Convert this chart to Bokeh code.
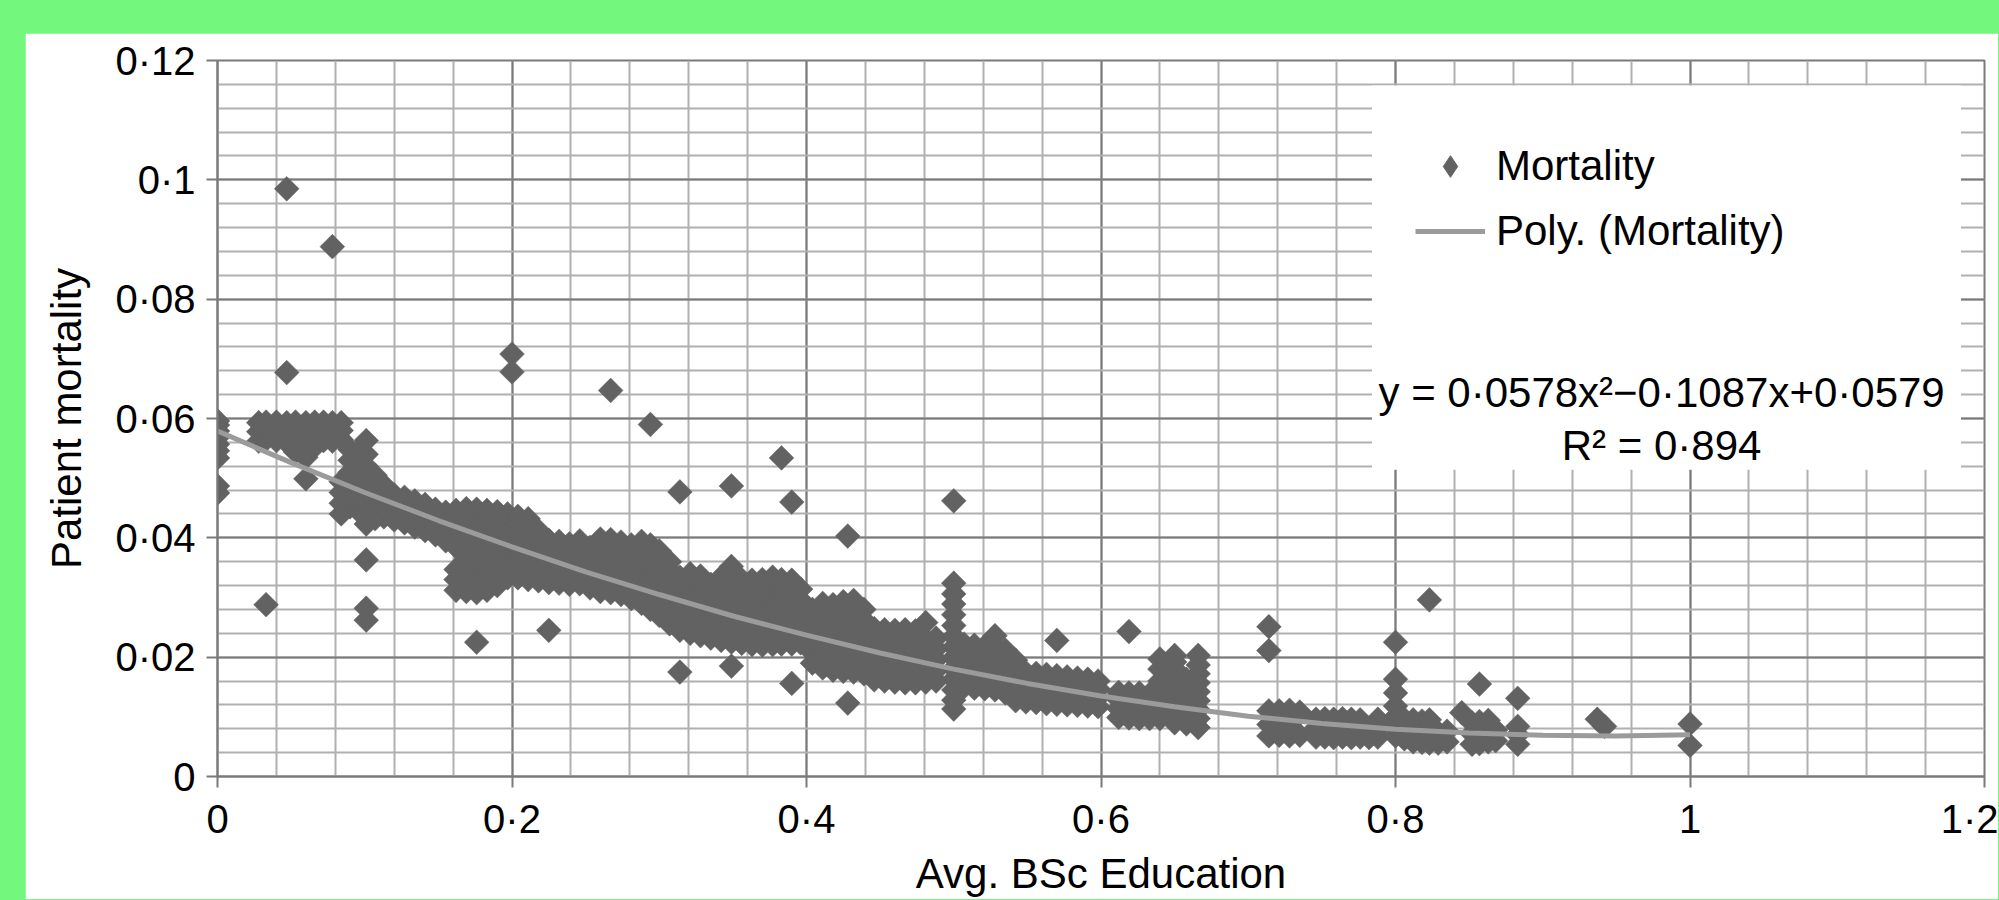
from bokeh.plotting import figure
from bokeh.models import (Range1d, FixedTicker, Legend, LegendItem, BoxAnnotation,
                          Label, GlobalInlineStyleSheet, ColumnDataSource)
from bokeh.embed import file_html
from bokeh.resources import INLINE

# ---------------- data ----------------
x_ticks = [0, 0.2, 0.4, 0.6, 0.8, 1.0, 1.2]
x_tick_labels = ["0", "0·2", "0·4", "0·6", "0·8", "1", "1·2"]
y_ticks = [0, 0.02, 0.04, 0.06, 0.08, 0.1, 0.12]
y_tick_labels = ["0", "0·02", "0·04", "0·06", "0·08", "0·1", "0·12"]

# proportion of BSc-educated nurses (x) and the mortality values observed at it (y)
edu_levels = [
    0.000, 0.028, 0.033, 0.040, 0.047, 0.053, 0.060, 0.066, 0.072, 0.078,
    0.084, 0.090, 0.095, 0.101, 0.107, 0.113, 0.120, 0.127, 0.134, 0.141,
    0.148, 0.155, 0.162, 0.169, 0.176, 0.183, 0.190, 0.197, 0.200, 0.204,
    0.211, 0.218, 0.225, 0.232, 0.239, 0.246, 0.253, 0.260, 0.267, 0.274,
    0.281, 0.288, 0.294, 0.300, 0.307, 0.314, 0.321, 0.328, 0.335, 0.342,
    0.349, 0.356, 0.363, 0.370, 0.377, 0.383, 0.390, 0.396, 0.404, 0.411,
    0.418, 0.425, 0.428, 0.432, 0.439, 0.446, 0.453, 0.460, 0.467, 0.474,
    0.481, 0.488, 0.500, 0.507, 0.514, 0.521, 0.528, 0.535, 0.542, 0.549,
    0.556, 0.563, 0.570, 0.577, 0.584, 0.591, 0.598, 0.612, 0.619, 0.626,
    0.633, 0.640, 0.650, 0.658, 0.666, 0.714, 0.721, 0.728, 0.735, 0.746,
    0.752, 0.758, 0.764, 0.770, 0.776, 0.782, 0.788, 0.800, 0.806, 0.812,
    0.818, 0.823, 0.829, 0.835, 0.845, 0.852, 0.857, 0.863, 0.868, 0.883,
    0.937, 0.942, 1.000,
]
mortality_at_level = [
    [0.0475, 0.0487, 0.0534, 0.0546, 0.0557, 0.0568, 0.0579, 0.0589, 0.0596],  # 0.000
    [0.0562, 0.0578, 0.0593],                                  # 0.028
    [0.0288, 0.0565, 0.0580, 0.0594],                          # 0.033
    [0.0563, 0.0579, 0.0594],                                  # 0.040
    [0.0560, 0.0577, 0.0593, 0.0677, 0.0985],                  # 0.047
    [0.0544, 0.0562, 0.0578, 0.0594],                          # 0.053
    [0.0499, 0.0535, 0.0560, 0.0577, 0.0593],                  # 0.060
    [0.0553, 0.0565, 0.0580, 0.0594],                          # 0.066
    [0.0563, 0.0578, 0.0594],                                  # 0.072
    [0.0562, 0.0577, 0.0593, 0.0888],                          # 0.078
    [0.0440, 0.0458, 0.0476, 0.0494, 0.0565, 0.0580, 0.0593],  # 0.084
    [0.0452, 0.0470, 0.0490, 0.0510, 0.0530, 0.0548],          # 0.090
    [0.0447, 0.0466, 0.0485, 0.0504, 0.0523, 0.0541],          # 0.095
    [0.0262, 0.0282, 0.0363, 0.0423, 0.0442, 0.0461, 0.0480, 0.0500, 0.0520, 0.0540, 0.0563],  # 0.101
    [0.0432, 0.0450, 0.0468, 0.0487, 0.0505],                  # 0.107
    [0.0435, 0.0452, 0.0470, 0.0488],                          # 0.113
    [0.0430, 0.0447, 0.0463, 0.0472],                          # 0.120
    [0.0425, 0.0441, 0.0457, 0.0468],                          # 0.127
    [0.0418, 0.0434, 0.0450, 0.0462],                          # 0.134
    [0.0412, 0.0428, 0.0444, 0.0456],                          # 0.141
    [0.0405, 0.0421, 0.0437, 0.0448],                          # 0.148
    [0.0395, 0.0412, 0.0428, 0.0443],                          # 0.155
    [0.0312, 0.0330, 0.0347, 0.0385, 0.0402, 0.0420, 0.0437, 0.0446],  # 0.162
    [0.0310, 0.0327, 0.0345, 0.0362, 0.0380, 0.0398, 0.0416, 0.0434, 0.0449],  # 0.169
    [0.0225, 0.0308, 0.0325, 0.0343, 0.0360, 0.0378, 0.0396, 0.0414, 0.0432, 0.0448],  # 0.176
    [0.0312, 0.0330, 0.0348, 0.0366, 0.0384, 0.0402, 0.0420, 0.0438, 0.0446],  # 0.183
    [0.0320, 0.0338, 0.0356, 0.0374, 0.0392, 0.0410, 0.0428, 0.0444],  # 0.190
    [0.0333, 0.0351, 0.0369, 0.0387, 0.0405, 0.0423, 0.0440],  # 0.197
    [0.0678, 0.0708],                                          # 0.200
    [0.0333, 0.0350, 0.0368, 0.0386, 0.0404, 0.0422, 0.0436],  # 0.204
    [0.0330, 0.0347, 0.0365, 0.0383, 0.0401, 0.0419, 0.0432],  # 0.211
    [0.0328, 0.0345, 0.0362, 0.0380, 0.0397, 0.0412],          # 0.218
    [0.0245, 0.0325, 0.0342, 0.0360, 0.0377, 0.0396],          # 0.225
    [0.0324, 0.0341, 0.0358, 0.0375, 0.0394],                  # 0.232
    [0.0322, 0.0339, 0.0356, 0.0373, 0.0390],                  # 0.239
    [0.0323, 0.0340, 0.0357, 0.0374, 0.0395],                  # 0.246
    [0.0316, 0.0333, 0.0350, 0.0367, 0.0384],                  # 0.253
    [0.0310, 0.0327, 0.0345, 0.0363, 0.0381, 0.0398],          # 0.260
    [0.0308, 0.0325, 0.0343, 0.0361, 0.0379, 0.0397, 0.0647],  # 0.267
    [0.0305, 0.0323, 0.0341, 0.0359, 0.0377, 0.0393],          # 0.274
    [0.0298, 0.0316, 0.0334, 0.0352, 0.0370, 0.0388],          # 0.281
    [0.0290, 0.0308, 0.0326, 0.0344, 0.0362, 0.0380, 0.0394],  # 0.288
    [0.0280, 0.0298, 0.0316, 0.0334, 0.0352, 0.0370, 0.0388, 0.0590],  # 0.294
    [0.0270, 0.0288, 0.0306, 0.0324, 0.0342, 0.0360, 0.0378],  # 0.300
    [0.0256, 0.0274, 0.0292, 0.0310, 0.0328, 0.0346, 0.0360],  # 0.307
    [0.0175, 0.0245, 0.0262, 0.0280, 0.0298, 0.0316, 0.0334, 0.0477],  # 0.314
    [0.0240, 0.0257, 0.0275, 0.0293, 0.0311, 0.0329, 0.0340],  # 0.321
    [0.0236, 0.0253, 0.0271, 0.0289, 0.0307, 0.0325, 0.0336],  # 0.328
    [0.0232, 0.0250, 0.0268, 0.0286, 0.0304, 0.0322],          # 0.335
    [0.0228, 0.0246, 0.0264, 0.0282, 0.0300, 0.0318, 0.0334],  # 0.342
    [0.0185, 0.0225, 0.0243, 0.0261, 0.0279, 0.0297, 0.0315, 0.0352, 0.0487],  # 0.349
    [0.0223, 0.0241, 0.0259, 0.0277, 0.0295, 0.0313, 0.0330],  # 0.356
    [0.0221, 0.0239, 0.0257, 0.0275, 0.0293, 0.0311, 0.0329],  # 0.363
    [0.0220, 0.0238, 0.0256, 0.0274, 0.0292, 0.0310, 0.0330],  # 0.370
    [0.0221, 0.0239, 0.0257, 0.0275, 0.0301, 0.0319, 0.0334],  # 0.377
    [0.0222, 0.0240, 0.0258, 0.0276, 0.0294, 0.0312, 0.0330, 0.0534],  # 0.383
    [0.0156, 0.0222, 0.0240, 0.0258, 0.0276, 0.0294, 0.0312, 0.0329, 0.0460],  # 0.390
    [0.0224, 0.0242, 0.0260, 0.0278, 0.0296, 0.0314],          # 0.396
    [0.0190, 0.0208, 0.0226, 0.0244, 0.0262, 0.0280],          # 0.404
    [0.0182, 0.0200, 0.0218, 0.0236, 0.0254, 0.0272, 0.0290],  # 0.411
    [0.0178, 0.0196, 0.0214, 0.0232, 0.0250, 0.0268, 0.0288],  # 0.418
    [0.0176, 0.0194, 0.0212, 0.0230, 0.0248, 0.0266, 0.0284, 0.0293],  # 0.425
    [0.0123, 0.0403],                                          # 0.428
    [0.0175, 0.0193, 0.0211, 0.0229, 0.0247, 0.0265, 0.0283, 0.0295],  # 0.432
    [0.0172, 0.0190, 0.0208, 0.0226, 0.0244, 0.0262, 0.0280],  # 0.439
    [0.0162, 0.0180, 0.0198, 0.0216, 0.0234, 0.0248],          # 0.446
    [0.0160, 0.0178, 0.0196, 0.0214, 0.0232, 0.0246],          # 0.453
    [0.0158, 0.0176, 0.0194, 0.0212, 0.0230, 0.0245],          # 0.460
    [0.0157, 0.0175, 0.0193, 0.0211, 0.0229, 0.0246],          # 0.467
    [0.0157, 0.0175, 0.0193, 0.0211, 0.0229, 0.0244],          # 0.474
    [0.0158, 0.0176, 0.0194, 0.0212, 0.0230, 0.0258],          # 0.481
    [0.0160, 0.0178, 0.0196, 0.0214, 0.0232],                  # 0.488
    [0.0113, 0.0128, 0.0145, 0.0163, 0.0181, 0.0199, 0.0217, 0.0235, 0.0253,
     0.0271, 0.0289, 0.0306, 0.0324, 0.0462],                  # 0.500
    [0.0150, 0.0168, 0.0186, 0.0204, 0.0222],                  # 0.507
    [0.0148, 0.0166, 0.0184, 0.0202, 0.0220],                  # 0.514
    [0.0147, 0.0165, 0.0183, 0.0201, 0.0218],                  # 0.521
    [0.0145, 0.0163, 0.0181, 0.0199, 0.0217, 0.0236],          # 0.528
    [0.0140, 0.0158, 0.0176, 0.0194, 0.0212],                  # 0.535
    [0.0127, 0.0143, 0.0160, 0.0176, 0.0195],                  # 0.542
    [0.0125, 0.0141, 0.0158, 0.0174],                          # 0.549
    [0.0124, 0.0140, 0.0157, 0.0173],                          # 0.556
    [0.0122, 0.0138, 0.0155, 0.0171],                          # 0.563
    [0.0121, 0.0137, 0.0154, 0.0169, 0.0228],                  # 0.570
    [0.0120, 0.0136, 0.0152, 0.0167],                          # 0.577
    [0.0119, 0.0135, 0.0151, 0.0165],                          # 0.584
    [0.0118, 0.0133, 0.0149, 0.0163],                          # 0.591
    [0.0117, 0.0132, 0.0147, 0.0160],                          # 0.598
    [0.0099, 0.0114, 0.0129, 0.0141],                          # 0.612
    [0.0098, 0.0113, 0.0128, 0.0140, 0.0243],                  # 0.619
    [0.0097, 0.0112, 0.0127, 0.0140],                          # 0.626
    [0.0097, 0.0111, 0.0126, 0.0138],                          # 0.633
    [0.0097, 0.0111, 0.0126, 0.0140, 0.0160, 0.0180, 0.0197],  # 0.640
    [0.0090, 0.0105, 0.0120, 0.0135, 0.0150, 0.0165, 0.0180, 0.0192, 0.0203],  # 0.650
    [0.0088, 0.0103, 0.0118, 0.0133, 0.0148, 0.0163],          # 0.658
    [0.0082, 0.0097, 0.0112, 0.0127, 0.0142, 0.0157, 0.0172, 0.0187, 0.0203],  # 0.666
    [0.0068, 0.0087, 0.0110, 0.0211, 0.0251],                  # 0.714
    [0.0069, 0.0110],                                          # 0.721
    [0.0068, 0.0088, 0.0111],                                  # 0.728
    [0.0069, 0.0108],                                          # 0.735
    [0.0066, 0.0081, 0.0096],                                  # 0.746
    [0.0066, 0.0082, 0.0097],                                  # 0.752
    [0.0065, 0.0081, 0.0096],                                  # 0.758
    [0.0066, 0.0081, 0.0097],                                  # 0.764
    [0.0065, 0.0080, 0.0096],                                  # 0.770
    [0.0066, 0.0081, 0.0095],                                  # 0.776
    [0.0065, 0.0079],                                          # 0.782
    [0.0066, 0.0080, 0.0096],                                  # 0.788
    [0.0068, 0.0085, 0.0100, 0.0118, 0.0140, 0.0163, 0.0225],  # 0.800
    [0.0063, 0.0080, 0.0096],                                  # 0.806
    [0.0058, 0.0076, 0.0095],                                  # 0.812
    [0.0057, 0.0075, 0.0093],                                  # 0.818
    [0.0056, 0.0076, 0.0095, 0.0296],                          # 0.823
    [0.0056, 0.0074],                                          # 0.829
    [0.0058, 0.0076],                                          # 0.835
    [0.0107],                                                  # 0.845
    [0.0054, 0.0072, 0.0090],                                  # 0.852
    [0.0055, 0.0073, 0.0092, 0.0155],                          # 0.857
    [0.0058, 0.0076, 0.0094],                                  # 0.863
    [0.0060, 0.0078],                                          # 0.868
    [0.0054, 0.0070, 0.0084, 0.0131],                          # 0.883
    [0.0096],                                                  # 0.937
    [0.0084],                                                  # 0.942
    [0.0052, 0.0088],                                          # 1.000
]

# polynomial trend line as drawn
trend_x = [0.0, 0.05, 0.1, 0.15, 0.2, 0.25, 0.3, 0.35, 0.4, 0.45, 0.5,
           0.55, 0.6, 0.65, 0.7, 0.75, 0.8, 0.85, 0.9, 0.95, 1.0]
trend_y = [0.0579, 0.0526, 0.0476, 0.0429, 0.0385, 0.0343, 0.0305, 0.0269,
           0.0237, 0.0207, 0.0180, 0.0156, 0.0135, 0.0117, 0.0101, 0.0089,
           0.0079, 0.0073, 0.0069, 0.0068, 0.0070]

equation_text = "y = 0·0578x²−0·1087x+0·0579"
r2_text = "R² = 0·894"

mort_x = [x for x, ys in zip(edu_levels, mortality_at_level) for _ in ys]
mort_y = [y for ys in mortality_at_level for y in ys]
src = ColumnDataSource(data=dict(x=mort_x, y=mort_y))

# ---------------- figure ----------------
FONT = "Liberation Sans"
MAJOR = "#7a7a7a"
MINOR = "#b0b0b0"
POINT = "#626262"

p = figure(frame_width=1767, frame_height=716,
           x_range=Range1d(0, 1.2), y_range=Range1d(0, 0.12),
           output_backend="svg", toolbar_location=None,
           min_border_left=192, min_border_right=14, min_border_top=27,
           min_border_bottom=60,
           background_fill_color="white", border_fill_color="white")
p.outline_line_color = MAJOR
p.outline_line_width = 2

p.stylesheets = [GlobalInlineStyleSheet(
    css="html,body{margin:0;padding:0;background:#74F77D;overflow:hidden;}"
        "body{padding:33px 0 0 25px;}")]

x_minor = [round(0.04 * i, 2) for i in range(31)]
y_minor = [round(0.004 * i, 3) for i in range(31)]
p.xaxis.ticker = FixedTicker(ticks=x_ticks, minor_ticks=x_minor)
p.yaxis.ticker = FixedTicker(ticks=y_ticks, minor_ticks=y_minor)
p.xaxis.major_label_overrides = dict(zip(x_ticks, x_tick_labels))
p.yaxis.major_label_overrides = dict(zip(y_ticks, y_tick_labels))

for ax in (p.xaxis, p.yaxis):
    ax.axis_line_color = MAJOR
    ax.axis_line_width = 2
    ax.major_tick_line_color = MAJOR
    ax.major_tick_line_width = 2
    ax.major_tick_out = 11
    ax.major_tick_in = 0
    ax.minor_tick_line_color = None
    ax.major_label_text_font = FONT
    ax.major_label_text_font_size = "40px"
    ax.major_label_text_color = "black"
    ax.axis_label_text_font = FONT
    ax.axis_label_text_font_size = "42px"
    ax.axis_label_text_font_style = "normal"
    ax.axis_label_text_color = "black"

p.xaxis.axis_label = "Avg. BSc Education"
p.yaxis.axis_label = "Patient mortality"
p.xaxis.major_label_standoff = 9
p.yaxis.major_label_standoff = 11
p.xaxis.axis_label_standoff = 6
p.yaxis.axis_label_standoff = 22

for g in (p.xgrid, p.ygrid):
    g.grid_line_color = MAJOR
    g.grid_line_width = 2
    g.minor_grid_line_color = MINOR
    g.minor_grid_line_width = 2

sc = p.scatter("x", "y", source=src, marker="square", angle=45, angle_units="deg",
               size=17.5, fill_color=POINT, line_color=POINT, line_width=0.5)
ln = p.line(trend_x, trend_y, line_color="#9b9b9b", line_width=5)
# legend key only: the same series drawn as a (hidden) diamond marker
key_marker = p.scatter("x", "y", source=src, marker="diamond",
                       fill_color=POINT, line_color=POINT, visible=False)

box = BoxAnnotation(left=0.784, right=1.184, bottom=0.0514, top=0.1158,
                    fill_color="white", fill_alpha=1.0, line_color=None)
p.add_layout(box)

legend = Legend(items=[LegendItem(label="Mortality", renderers=[key_marker]),
                       LegendItem(label="Poly. (Mortality)", renderers=[ln])],
                location=(1198, 518), orientation="vertical",
                background_fill_alpha=0, border_line_color=None,
                inactive_fill_alpha=0,
                padding=0, margin=0, spacing=11,
                glyph_width=70, glyph_height=54, label_height=39,
                label_standoff=11, label_text_font=FONT,
                label_text_font_size="42px", label_text_color="black")
p.add_layout(legend, "center")

p.add_layout(Label(x=0.9807, y=0.06435, text=equation_text, text_align="center",
                   text_baseline="alphabetic", text_font=FONT,
                   text_font_size="42px", text_color="black"))
p.add_layout(Label(x=0.9807, y=0.05547, text=r2_text, text_align="center",
                   text_baseline="alphabetic", text_font=FONT,
                   text_font_size="42px", text_color="black"))

open("out.html", "w").write(file_html(p, INLINE, title="Patient mortality"))
